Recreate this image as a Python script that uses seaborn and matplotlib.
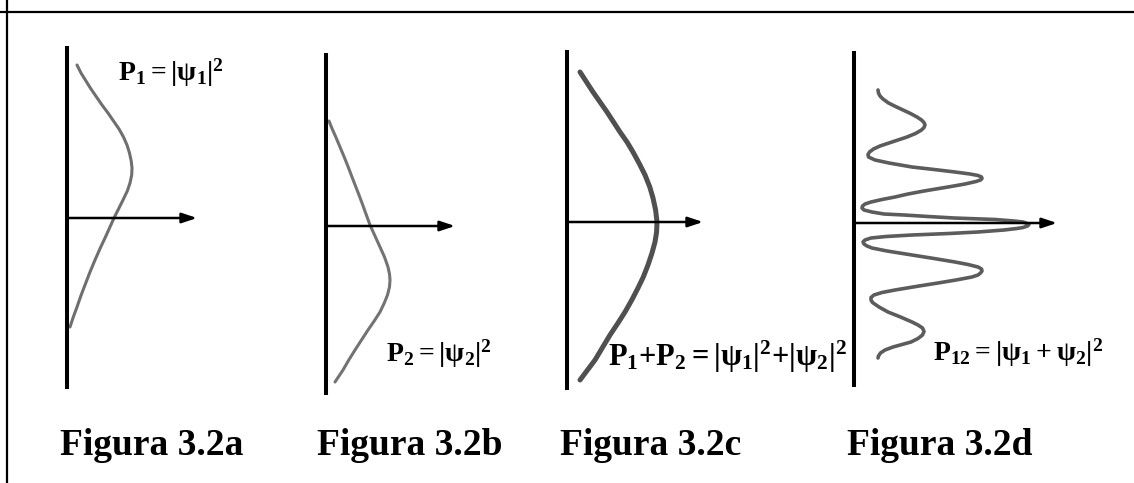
import matplotlib
matplotlib.use("Agg")
import matplotlib.pyplot as plt
import seaborn as sns
import pandas as pd

sns.set_style("white")
plt.rcParams["font.family"] = ["Liberation Serif", "DejaVu Serif"]
plt.rcParams["text.color"] = "black"
plt.rcParams["mathtext.fontset"] = "custom"
plt.rcParams["mathtext.rm"] = "Liberation Serif:bold"
plt.rcParams["mathtext.it"] = "Liberation Serif:bold"
plt.rcParams["mathtext.bf"] = "Liberation Serif:bold"

W, H = 1134, 483

# Curves: position along the screen (up = +) and probability (to the right)
pos_a = [153, 145, 137, 129, 121, 113, 105, 97, 89, 81, 73, 65, 57, 50, 43, 35,
         27, 18, 9, 0, -10, -20, -30, -42, -54, -67, -78, -89, -99, -109]
prob_a = [10, 14, 19, 24, 29.5, 35, 41, 46.5, 52, 56.5, 60, 62.5, 64.2, 65, 64.7,
          63, 60.3, 56, 51.5, 47, 42.5, 38, 33.3, 28, 23, 18, 13.8, 10, 6.3, 3]

pos_b = [105, 97, 89, 79, 69, 59, 49, 40, 31, 23, 12, 1, -10, -21, -31, -41, -48,
         -54, -61, -69, -77, -86, -95, -104, -114, -124, -134, -144, -150, -156]
prob_b = [3, 6.2, 9.8, 14, 18.2, 22.2, 26, 29.5, 33, 36, 40, 44, 49, 54, 58.5, 62,
          63.5, 64, 63.5, 61.5, 58.3, 54, 48.2, 42, 35.5, 29, 22.8, 17, 13, 9]

pos_c = [150, 140, 130, 120, 110, 100, 90, 80, 70, 58, 47, 35, 24, 12, 0, -10,
         -20, -31, -43, -55, -66, -78, -90, -101, -113, -125, -138, -148, -158]
prob_c = [13, 19.5, 26, 33, 40, 46.5, 53, 60, 66, 72.5, 78, 82.8, 86, 88.6, 90,
          89.6, 88, 85, 81, 76.3, 71, 64.8, 58, 51, 43, 35.8, 28, 20.5, 13]

pos_d = [133, 130, 127, 124, 120, 116.5, 113, 109.5, 106, 103, 100.5, 98, 95.5,
         93, 89.5, 86, 83, 80, 77, 74, 71, 68.5, 66, 63, 60, 56, 53.5, 51, 49,
         47.5, 46, 44.5, 43, 41.5, 39, 36.5, 35, 32, 29, 26, 23.5, 21, 19, 17,
         15, 13, 11, 9, 8, 6.5, 5, 3.5, 2, 1, 0, -1.5, -3, -4.5, -5.5, -7, -9,
         -10.5, -12, -13.5, -15, -17, -19, -21, -23, -25, -28, -32, -35.5, -39,
         -41.5, -44, -46, -48, -50, -52, -54, -57, -60, -63.5, -67, -69.5, -72,
         -74.5, -77, -79.5, -84, -89, -94, -99, -102, -105, -108.5, -112, -115.5,
         -119, -121.5, -124, -127, -130, -133, -135]
prob_d = [24, 24.5, 26, 29, 34.5, 41.5, 49, 56.5, 63, 67.5, 70, 71, 70, 67.5,
          61.5, 53, 44, 35, 26, 19.5, 15.5, 14, 14.5, 21, 35, 58, 80, 101, 116,
          124, 127.5, 128, 126.5, 122, 111, 97, 88, 70, 54, 41, 28, 17, 11, 8.5,
          8, 10, 18, 30, 50, 74, 100, 141, 160, 169, 172, 175, 173.5, 169, 163,
          150, 124, 95, 58, 32, 17, 11, 9, 10, 13, 18, 33, 58, 80, 101, 114, 124,
          127.5, 128, 126.5, 124, 118, 102, 84, 62, 41, 28, 20, 17, 17, 18.5, 25,
          34, 46.5, 58, 64, 68.5, 70, 68.5, 64, 57, 48, 39, 31, 26.5, 24.5, 24]

captions = ["Figura 3.2a", "Figura 3.2b", "Figura 3.2c", "Figura 3.2d"]
formulas = [r"$\mathrm{P_1 = |\psi_1|^2}$",
            r"$\mathrm{P_2{=}|\psi_2|^2}$",
            r"$\mathrm{P_1{+}P_2{=}|\psi_1|^2{+}|\psi_2|^2}$",
            r"$\mathrm{P_{12}{=}|\psi_1 + \psi_2|^2}$"]

# panel layout in pixels: axis x, top, bottom, arrow y, arrow length, formula x/y
panels = [
    dict(x=67, top=48, bottom=387, ay=218, alen=130, fx=118, fy=81, fs=20,
         pos=pos_a, prob=prob_a, color="#6f6f6f", lw=2.2),
    dict(x=326, top=55, bottom=393, ay=226, alen=129, fx=386, fy=362, fs=20,
         pos=pos_b, prob=prob_b, color="#737373", lw=2.2),
    dict(x=567, top=52, bottom=388, ay=222, alen=136, fx=608, fy=366, fs=22,
         pos=pos_c, prob=prob_c, color="#505050", lw=3.6),
    dict(x=854, top=53, bottom=385, ay=223, alen=203, fx=933, fy=361, fs=20,
         pos=pos_d, prob=prob_d, color="#5c5c5c", lw=2.6),
]
caption_x = [60, 317, 560, 847]

fig = plt.figure(figsize=(W / 100, H / 100), dpi=100)
fig.patch.set_facecolor("white")

# frame: top and left rules
frame = fig.add_axes([0, 0, 1, 1])
frame.set_xlim(0, W)
frame.set_ylim(H, 0)
frame.axis("off")
frame.axhline(12, color="black", lw=1.6)
frame.axvline(7, color="black", lw=1.6)

for p, cap, cx, formula in zip(panels, captions, caption_x, formulas):
    width = 230
    ax = fig.add_axes([p["x"] / W, 1 - p["bottom"] / H, width / W,
                       (p["bottom"] - p["top"]) / H])
    ax.set_xlim(0, width)
    ax.set_ylim(p["ay"] - p["bottom"], p["ay"] - p["top"])
    ax.patch.set_alpha(0)
    for side in ["top", "right", "bottom"]:
        ax.spines[side].set_visible(False)
    ax.spines["left"].set_linewidth(2.9)
    ax.spines["left"].set_color("black")
    ax.set_xticks([])
    ax.set_yticks([])

    df = pd.DataFrame({"pos": p["pos"], "prob": p["prob"]})
    sns.lineplot(data=df, x="prob", y="pos", sort=False, estimator=None,
                 orient="y", ax=ax, color=p["color"], lw=p["lw"],
                 solid_joinstyle="round", solid_capstyle="round", clip_on=False)
    ax.set_xlabel("")
    ax.set_ylabel("")

    ax.annotate("", xy=(p["alen"], 0), xytext=(0, 0),
                arrowprops=dict(arrowstyle="-|>,head_length=0.9,head_width=0.3",
                                lw=1.8, color="black", shrinkA=0, shrinkB=0))

    fig.text(p["fx"] / W, 1 - p["fy"] / H, formula, fontsize=p["fs"],
             color="black", ha="left", va="baseline")
    fig.text(cx / W, 1 - 455 / H, cap, fontsize=27, fontweight="bold",
             color="black", ha="left", va="baseline")

fig.savefig("out.png", dpi=100, facecolor="white")
